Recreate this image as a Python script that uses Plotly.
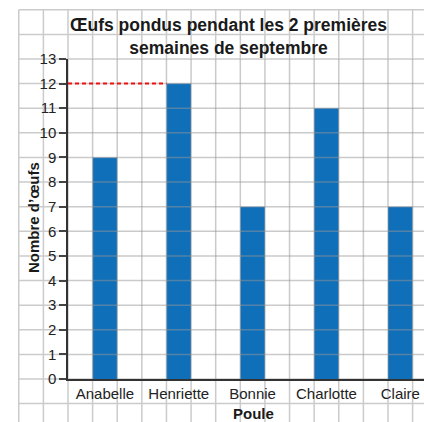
import plotly.graph_objects as go

categories = ["Anabelle", "Henriette", "Bonnie", "Charlotte", "Claire"]
eggs = [9, 12, 7, 11, 7]
y_ticks = list(range(0, 14))

W, H = 424, 422
L, T, B, R = 68, 59, 43, 0
plot_w = W - L - R
plot_h = H - T - B
Y_MAX = 13
cell = plot_h / Y_MAX              # pixels per unit on y (= grid cell)
cat_px = 3 * cell                  # one category = 3 grid cells
X0 = -0.5
X1 = X0 + plot_w / cat_px
BAR_W = 1 / 3

def xp(xd):
    return (xd - X0) / (X1 - X0)

def yp(yd):
    return yd / Y_MAX

def px_x(px):
    return (px - L) / plot_w

def px_y(py):
    return (H - B - py) / plot_h

BAR_COLOR = "#0f6fb8"
GRID_SOLID = "#cbcbcb"
GRID_ALPHA = "rgba(150,150,150,0.5)"
FONT = "Liberation Sans, Arial, sans-serif"

fig = go.Figure(go.Bar(
    x=list(range(len(categories))), y=eggs, width=BAR_W,
    marker=dict(color=BAR_COLOR, line=dict(width=0)),
    hoverinfo="skip",
))

shapes = []
x_left_d = X0 - 2 / 3
x_right_d = X1 + 1
y_top_d = Y_MAX + 2
y_bot_d = -2

def seg(x0, y0, x1, y1, layer, color):
    shapes.append(dict(type="line", xref="paper", yref="paper",
                       x0=xp(x0), x1=xp(x1), y0=yp(y0), y1=yp(y1),
                       layer=layer, line=dict(color=color, width=1.5)))

# vertical grid lines
k = -2
while X0 + k / 3 <= X1 + 0.01:
    xd = X0 + k / 3
    if k <= 0:
        seg(xd, y_bot_d, xd, y_top_d, "below", GRID_SOLID)
    else:
        seg(xd, y_bot_d, xd, 0, "below", GRID_SOLID)
        seg(xd, Y_MAX, xd, y_top_d, "below", GRID_SOLID)
        seg(xd, 0, xd, Y_MAX, "above", GRID_ALPHA)
    k += 1

# horizontal grid lines
for yd in range(-1, Y_MAX + 3):
    if yd <= 0 or yd >= Y_MAX:
        seg(x_left_d, yd, x_right_d, yd, "below", GRID_SOLID)
    else:
        seg(x_left_d, yd, X0, yd, "below", GRID_SOLID)
        seg(X0, yd, x_right_d, yd, "above", GRID_ALPHA)

# red dashed reference line at the maximum
imax = eggs.index(max(eggs))
shapes.append(dict(type="line", xref="x", yref="y",
                   x0=X0, x1=imax - BAR_W / 2, y0=max(eggs), y1=max(eggs),
                   layer="above", line=dict(color="#ee1111", width=2, dash="4px,3px")))

annotations = [
    dict(text="<b>Œufs pondus pendant les 2 premières<br>semaines de septembre</b>",
         xref="paper", yref="paper", x=px_x(228), y=px_y(36), xanchor="center",
         yanchor="middle", showarrow=False, align="center",
         font=dict(family=FONT, size=17.5, color="#1a1a1a")),
    dict(text="<b>Nombre d’œufs</b>", xref="paper", yref="paper",
         x=px_x(33), y=px_y(218), xanchor="center", yanchor="middle",
         textangle=-90, showarrow=False,
         font=dict(family=FONT, size=15, color="#1a1a1a")),
    dict(text="<b>Poule</b>", xref="paper", yref="paper",
         x=px_x(253), y=px_y(413), xanchor="center", yanchor="middle",
         showarrow=False, font=dict(family=FONT, size=15, color="#1a1a1a")),
]

fig.update_layout(
    width=W, height=H,
    margin=dict(l=L, r=R, t=T, b=B, pad=0),
    paper_bgcolor="white", plot_bgcolor="rgba(0,0,0,0)",
    showlegend=False,
    shapes=shapes, annotations=annotations,
    font=dict(family=FONT, color="#222222"),
    xaxis=dict(range=[X0, X1], tickmode="array",
               tickvals=list(range(len(categories))), ticktext=categories,
               showgrid=False, zeroline=False, showline=True,
               linecolor="#333333", linewidth=1.5,
               ticks="",
               tickfont=dict(size=15, color="#222222", family=FONT),
               fixedrange=True),
    yaxis=dict(range=[0, Y_MAX], tickmode="array", tickvals=y_ticks,
               showgrid=False, zeroline=False, showline=True,
               linecolor="#333333", linewidth=1.5,
               ticks="outside", ticklen=7, tickwidth=1.5, tickcolor="#444444",
               tickfont=dict(size=15, color="#222222", family=FONT),
               fixedrange=True),
)

fig.write_html("out.html", config={"displayModeBar": False},
               post_script="document.body.style.margin='0';document.body.style.overflow='hidden';")
